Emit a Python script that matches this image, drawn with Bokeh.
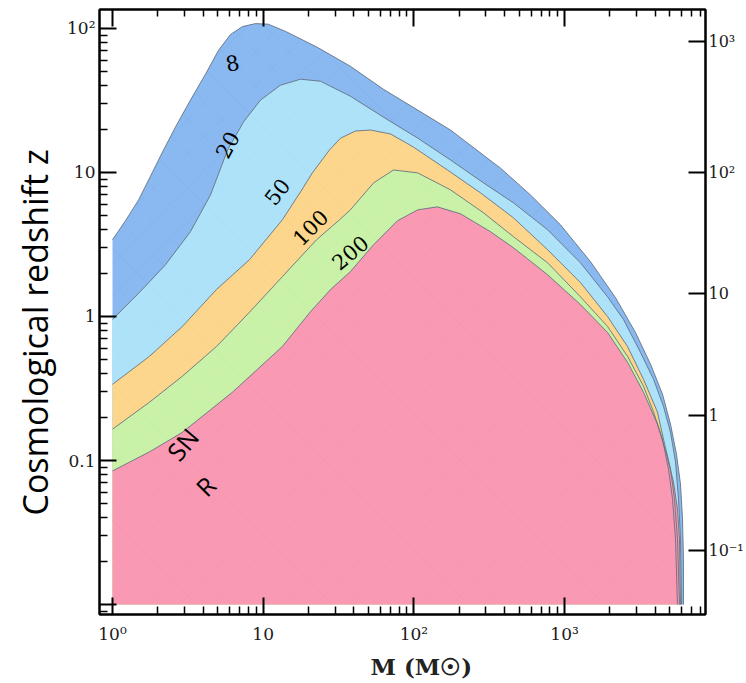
import math
from bokeh.plotting import figure
from bokeh.models import Range1d, LogAxis, FixedTicker, Label, Title
from bokeh.embed import file_html
from bokeh.resources import INLINE

# ---- data: upper boundaries of the regions (M in solar masses, cosmological redshift z)
m_8 = [1, 1.22, 1.49, 1.79, 2.15, 2.62, 3.29, 4.14, 5.05, 6.07, 7.29, 8.89, 10.8, 14.1, 22.9,
       37.9, 62.8, 106, 175, 376, 594, 939, 1486, 2178, 2953, 3718, 4463, 5043, 5525, 5875,
       6060, 6150, 6150]
z_8 = [3.41, 4.62, 6.45, 9.46, 13.9, 20.7, 31.8, 48.1, 70.4, 90.8, 103, 108, 107, 95.3, 73.9,
       54.6, 37.8, 27.1, 19.7, 10.7, 6.98, 4.33, 2.40, 1.35, 0.775, 0.466, 0.289, 0.179, 0.111,
       0.0688, 0.0394, 0.0208, 0.01]

m_20 = [1, 1.53, 2.25, 3.29, 4.47, 5.80, 7.40, 9.60, 13.0, 17.7, 24.0, 37.9, 62.8, 106, 175,
        290, 458, 771, 1274, 1927, 2459, 3190, 3893, 4530, 5043, 5445, 5700, 5875, 5970]
z_20 = [0.953, 1.49, 2.29, 3.88, 6.98, 14.3, 22.4, 31.8, 40.3, 44.4, 43.0, 33.8, 24.2, 17.3,
        12.2, 8.46, 6.15, 4.00, 2.36, 1.37, 0.953, 0.563, 0.366, 0.238, 0.157, 0.0977, 0.0542,
        0.0286, 0.01]

m_50 = [1, 1.76, 2.91, 4.90, 8.11, 13.4, 17.7, 21.2, 27.5, 32.6, 41.0, 51.5, 70.0, 99.4, 167,
        277, 458, 771, 1274, 1927, 2615, 3340, 4132, 4530, 5043, 5360, 5610, 5785]
z_50 = [0.338, 0.529, 0.853, 1.54, 2.48, 4.69, 7.33, 9.93, 14.3, 17.3, 19.4, 19.7, 18.5, 15.0,
        10.4, 7.21, 4.84, 2.91, 1.72, 1.0, 0.619, 0.366, 0.217, 0.141, 0.0874, 0.0542, 0.0286, 0.01]

m_100 = [1, 1.76, 2.91, 4.90, 8.11, 13.4, 22.6, 32.1, 37.9, 54.0, 73.2, 106, 175, 290, 458,
         771, 1274, 1927, 2615, 3340, 3893, 4463, 4888, 5200, 5445, 5610]
z_100 = [0.165, 0.254, 0.385, 0.619, 1.07, 1.89, 3.41, 4.69, 5.50, 8.46, 10.4, 9.93, 7.57, 5.24,
         3.58, 2.36, 1.37, 0.853, 0.529, 0.328, 0.217, 0.141, 0.0874, 0.0542, 0.0286, 0.01]

m_200 = [1, 1.79, 2.91, 6.25, 13.4, 20.6, 28.0, 37.9, 54.0, 77.8, 106, 143, 204, 322, 458, 771,
         1274, 1927, 2615, 3340, 4132, 4745, 5280, 5610, 5785, 5875]
z_200 = [0.0846, 0.116, 0.157, 0.298, 0.619, 1.08, 1.54, 2.05, 3.15, 4.62, 5.50, 5.77, 5.16,
         3.88, 3.00, 1.95, 1.21, 0.775, 0.481, 0.298, 0.179, 0.111, 0.0710, 0.0462, 0.0286, 0.01]

z_floor = 0.01

# contour labels
contour_texts = ["8", "20", "50", "100", "200"]
contour_m = [6.25, 5.80, 12.4, 20.6, 37.9]
contour_z = [57.3, 15.5, 7.33, 4.13, 2.77]
contour_angle_deg = [12, 62, 52, 45, 40]

region_texts = ["SN", "R"]
region_m = [2.91, 4.14]
region_z = [0.130, 0.0666]
region_angle_deg = [50, 45]

# ticks
x_ticks = [1, 10, 100, 1000]
x_tick_labels = ["10⁰", "10", "10²", "10³"]
y_ticks = [0.01, 0.1, 1, 10, 100]
y_tick_labels = ["", "0.1", "1", "10", "10²"]
right_ticks_z = [81.3, 9.93, 1.44, 0.207, 0.0237]   # luminosity distance (Gpc) ticks
right_tick_labels = ["10³", "10²", "10", "1", "10⁻¹"]

colors = ["#8ab8f0", "#aee2f9", "#fcd68c", "#c9f2a8", "#f999b3"]
hatch_colors = ["#5d8fd8", "#78c6ea", "#e8b860", "#98d878", "#e87090"]

TICK_FONT = "DejaVu Serif"

p = figure(width=746, height=683, x_axis_type="log", y_axis_type="log",
           x_range=Range1d(0.820, 8610), y_range=Range1d(0.00853, 135.3),
           output_backend="svg", toolbar_location=None,
           min_border_left=99, min_border_right=41, min_border_top=9, min_border_bottom=67)
p.grid.visible = False
p.outline_line_color = "black"
p.outline_line_width = 2
p.background_fill_color = "white"
p.border_fill_color = "white"

layers = [(m_8, z_8), (m_20, z_20), (m_50, z_50), (m_100, z_100), (m_200, z_200)]
for (m, z), c, hc in zip(layers, colors, hatch_colors):
    xs = list(m) + [m[0]]
    ys = list(z) + [z_floor]
    p.patch(xs, ys, fill_color=c, fill_alpha=1.0, line_color=None,
            hatch_pattern="diagonal_cross", hatch_color=hc, hatch_alpha=0.14,
            hatch_scale=34, hatch_weight=0.7)
for (m, z) in layers:
    p.line(m, z, line_color="#5f6f7c", line_width=1, line_alpha=0.85)

x_minor = [k * 10 ** e for e in range(0, 4) for k in range(2, 10)]
y_minor = [k * 10 ** e for e in range(-3, 2) for k in range(2, 10)]

def style_axis(ax, ticks, minor, labels, label_size):
    ax.ticker = FixedTicker(ticks=ticks, minor_ticks=minor)
    ax.major_label_overrides = {t: l for t, l in zip(ticks, labels)}
    ax.axis_line_color = "black"
    ax.axis_line_width = 2
    ax.major_tick_line_color = "black"
    ax.major_tick_line_width = 2
    ax.minor_tick_line_color = "black"
    ax.minor_tick_line_width = 1.5
    ax.major_tick_in = 17
    ax.major_tick_out = 0
    ax.minor_tick_in = 8
    ax.minor_tick_out = 0
    ax.major_label_text_font = TICK_FONT
    ax.major_label_text_font_size = label_size
    ax.major_label_text_color = "#1a1a1a"

style_axis(p.xaxis[0], x_ticks, x_minor, x_tick_labels, "17px")
p.xaxis[0].major_label_standoff = 9
style_axis(p.yaxis[0], y_ticks, y_minor, y_tick_labels, "17px")
p.yaxis[0].major_label_standoff = 4

top = LogAxis()
style_axis(top, x_ticks, x_minor, ["" for _ in x_ticks], "0px")
top.major_label_standoff = 0
top.minor_tick_in = 7
p.add_layout(top, "above")

right = LogAxis()
style_axis(right, right_ticks_z, [], right_tick_labels, "16px")
right.major_label_standoff = 3
p.add_layout(right, "right")

for t, mm, zz, a in zip(contour_texts, contour_m, contour_z, contour_angle_deg):
    p.add_layout(Label(x=mm, y=zz, text=t, angle=math.radians(a),
                       text_font="DejaVu Serif", text_font_size="21px", text_color="black",
                       text_align="center", text_baseline="middle"))

for t, mm, zz, a in zip(region_texts, region_m, region_z, region_angle_deg):
    p.add_layout(Label(x=mm, y=zz, text=t, angle=math.radians(a),
                       text_font="Open Sans", text_font_size="25px", text_color="black",
                       text_align="center", text_baseline="middle"))

# axis titles
p.add_layout(Title(text="Cosmological redshift z", align="left", offset=99,
                   text_font="Open Sans", text_font_size="34px", text_font_style="normal",
                   text_color="black", standoff=13), "left")
p.add_layout(Title(text="M (M☉)", align="left", offset=271,
                   text_font="DejaVu Serif", text_font_size="23px", text_font_style="bold",
                   text_color="#222222", standoff=8), "below")

open("out.html", "w").write(file_html(p, INLINE))
